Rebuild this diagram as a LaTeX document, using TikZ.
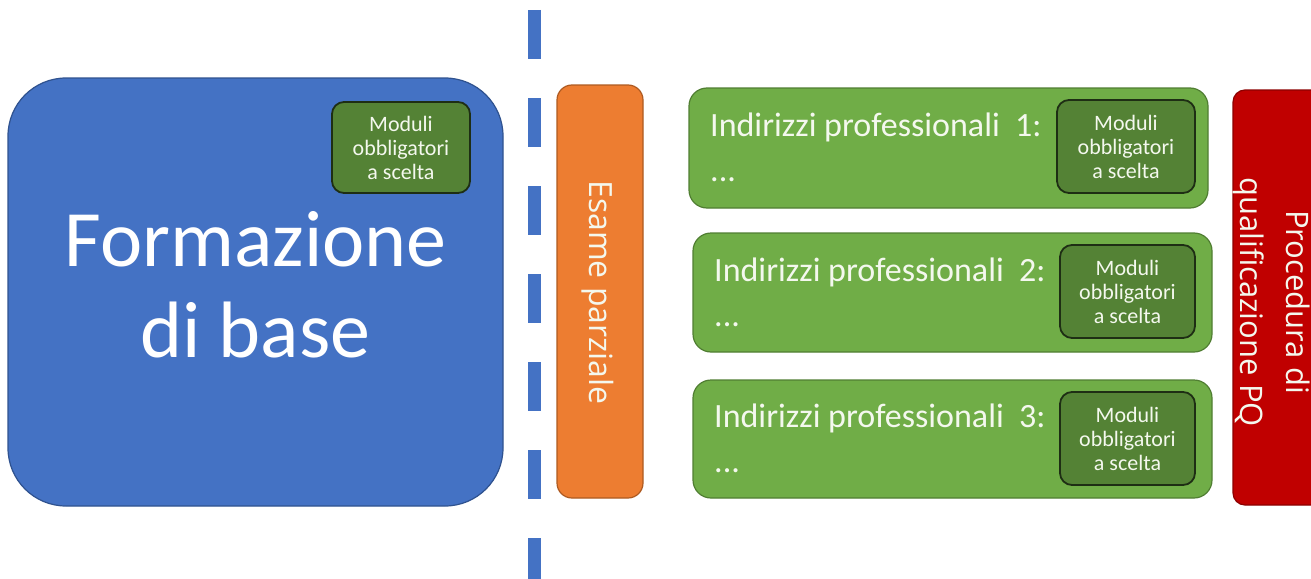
\documentclass[tikz,border=0pt]{standalone}
\usepackage{fontspec}
\setmainfont{Carlito}
\newfontfamily\osans{Open Sans}
\definecolor{cblue}{HTML}{4472C4}
\definecolor{cblueb}{HTML}{2F528F}
\definecolor{corange}{HTML}{ED7D31}
\definecolor{corangeb}{HTML}{AE5A21}
\definecolor{cgreen}{HTML}{70AD47}
\definecolor{cgreenb}{HTML}{507E32}
\definecolor{cmod}{HTML}{548235}
\definecolor{cmodb}{HTML}{1E2E14}
\definecolor{cred}{HTML}{C00000}
\definecolor{credb}{HTML}{8C0000}
\definecolor{ctext}{HTML}{F4F8EE}
\tikzset{
  box/.style={rounded corners=#1, line width=1.2pt},
  modbox/.style={draw=cmodb, fill=cmod, rounded corners=12pt, line width=1.8pt},
  modtext/.style={text=ctext, font=\fontsize{22}{24}\selectfont, align=center, inner sep=0pt},
  indtext/.style={text=ctext, font=\fontsize{34}{45}\selectfont, align=left, anchor=north west, inner sep=0pt},
  dashline/.style={draw=cblue, line width=13pt, dash pattern=on 49pt off 39pt}
}
\begin{document}
\begin{tikzpicture}[x=1pt,y=-1pt]
\useasboundingbox (0,0) rectangle (1311,578);
% dashed divider
\coordinate (dtop) at (534.5,10);
\coordinate (dbot) at (534.5,585);
\draw[dashline] (dtop) -- (dbot);
% base block
\draw[box=58pt, draw=cblueb, fill=cblue] (8,78) rectangle (503,506);
\node[text=white, font=\fontsize{80}{91}\selectfont, align=center, inner sep=0pt] (fb) at (255.5,285) {Formazione\\di base};
\draw[modbox] (332,102) rectangle (470,193);
\node[modtext] (m0) at (401,147.5) {Moduli\\obbligatori\\a scelta};
% partial exam
\draw[box=15pt, draw=corangeb, fill=corange] (557,85) rectangle (643,498);
\node[text=ctext, font=\osans\fontsize{32}{38}\selectfont, rotate=-90] (ep) at (598,292.5) {Esame parziale};
% professional tracks
\draw[box=18pt, draw=cgreenb, fill=cgreen] (689,88) rectangle (1208,208);
\node[indtext] (i1) at (710,113) {Indirizzi professionali~~1:\\...};
\draw[modbox] (1057,100) rectangle (1195,193);
\node[modtext] (m1) at (1126,146.5) {Moduli\\obbligatori\\a scelta};
\draw[box=18pt, draw=cgreenb, fill=cgreen] (693,233) rectangle (1212,352);
\node[indtext] (i2) at (714,258) {Indirizzi professionali~~2:\\...};
\draw[modbox] (1060,245) rectangle (1195,338);
\node[modtext] (m2) at (1127.5,291.5) {Moduli\\obbligatori\\a scelta};
\draw[box=18pt, draw=cgreenb, fill=cgreen] (693,380) rectangle (1212,498);
\node[indtext] (i3) at (714,404) {Indirizzi professionali~~3:\\...};
\draw[modbox] (1060,392) rectangle (1195,485);
\node[modtext] (m3) at (1127.5,438.5) {Moduli\\obbligatori\\a scelta};
% qualification procedure
\draw[box=12pt, draw=credb, fill=cred] (1233,90) rectangle (1330,505);
\node[text=ctext, font=\osans\fontsize{31}{46}\selectfont, rotate=-90, align=center] (pq) at (1272,302) {Procedura di\\qualificazione PQ};
\end{tikzpicture}
\end{document}
